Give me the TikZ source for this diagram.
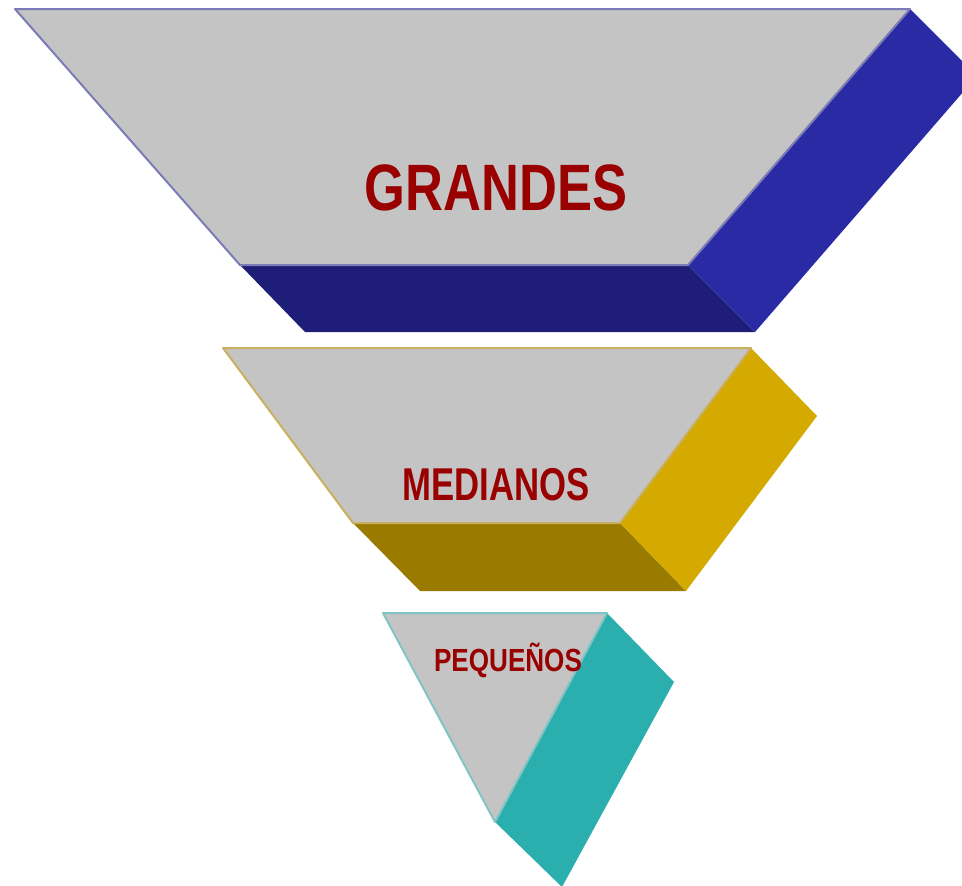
\documentclass[tikz,border=0pt]{standalone}
\usepackage{fontspec}
\setmainfont{Liberation Sans}
\definecolor{facegrey}{HTML}{C4C4C4}
\definecolor{bluebord}{HTML}{7B7BB8}
\definecolor{blueside}{HTML}{2A2AA4}
\definecolor{bluebot}{HTML}{1E1E78}
\definecolor{goldbord}{HTML}{C8B060}
\definecolor{goldside}{HTML}{D4A900}
\definecolor{goldbot}{HTML}{9A7B00}
\definecolor{tealbord}{HTML}{80C4C4}
\definecolor{tealside}{HTML}{2BAEAE}
\definecolor{labelred}{HTML}{990000}
\tikzset{
  topface/.style={fill=facegrey, draw=#1, line width=2pt, line join=round},
  lbl/.style={text=labelred, font=\bfseries, anchor=base, inner sep=0pt}
}
\begin{document}
\begin{tikzpicture}[x=1pt,y=-1pt]
\useasboundingbox (0,0) rectangle (962,886);
\clip (0,0) rectangle (962,886);
% GRANDES
\fill[bluebot] (240,265) -- (688,265) -- (755,332) -- (305,332) -- cycle;
\fill[blueside] (910,9) -- (977,76) -- (755,332) -- (688,265) -- cycle;
\draw[topface=bluebord] (15,9) -- (910,9) -- (688,265) -- (240,265) -- cycle;
\node[lbl] (grandes) at (496,210) {\fontsize{65.6}{70}\selectfont\scalebox{0.8}[1]{GRANDES}};
% MEDIANOS
\fill[goldbot] (353,523) -- (620,523) -- (686,591) -- (420,591) -- cycle;
\fill[goldside] (751,348) -- (817,416) -- (686,591) -- (620,523) -- cycle;
\draw[topface=goldbord] (223,348) -- (751,348) -- (620,523) -- (353,523) -- cycle;
\node[lbl] (medianos) at (496,500) {\fontsize{46}{50}\selectfont\scalebox{0.755}[1]{MEDIANOS}};
% PEQUEÑOS
\fill[tealside] (607,613) -- (674,682) -- (562,887) -- (495,822) -- cycle;
\draw[topface=tealbord] (383,613) -- (607,613) -- (495,822) -- cycle;
\node[lbl] (pequenos) at (508,671) {\fontsize{32}{36}\selectfont\scalebox{0.815}[1]{PEQUEÑOS}};
\end{tikzpicture}
\end{document}
